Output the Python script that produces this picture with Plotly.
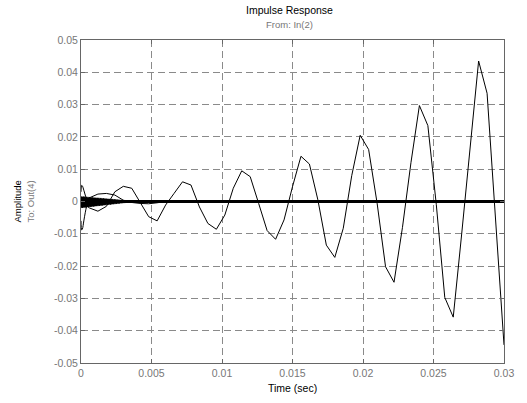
import plotly.graph_objects as go

# ---- data ----
dt_main = 0.0006
main_t = [round(k * dt_main, 6) for k in range(51)]
main_v = [0.0, -0.002, -0.003, -0.0015, 0.003, 0.0047, 0.0041, -0.0003, -0.0047, -0.0060,
          -0.0011, 0.0025, 0.0061, 0.0051, -0.0017, -0.0068, -0.0086, -0.0042, 0.0041, 0.0095,
          0.0077, -0.0006, -0.0090, -0.0117, -0.0057, 0.0046, 0.0140, 0.0116, 0.0005, -0.0135,
          -0.0173, -0.0083, 0.0080, 0.0205, 0.0161, -0.0005, -0.0202, -0.0250, -0.0080, 0.0120,
          0.0297, 0.0235, -0.0010, -0.0297, -0.0358, -0.0100, 0.0170, 0.0435, 0.0335, -0.0040,
          -0.0444]

spikeA_t = [0, 0.00005, 0.0001, 0.0002, 0.0003, 0.0004, 0.0005]
spikeA_v = [0.003, 0.005, 0.0048, 0.0035, 0.002, 0.0008, 0.0]
spikeB_t = [0, 0.00005, 0.0001, 0.0002, 0.0003, 0.0004, 0.0005, 0.0006]
spikeB_v = [-0.006, -0.0088, -0.0085, -0.006, -0.0035, -0.0015, -0.0005, 0.0]

slow_t = [0, 0.0006, 0.0012, 0.0018, 0.0024, 0.003, 0.0036, 0.0042, 0.0048, 0.0054, 0.006]
slow_v = [0.0, 0.0012, 0.0023, 0.0025, 0.002, 0.0004, -0.0003, -0.0006, -0.0007, -0.0004, 0.0]

# dense band of fast-decaying responses near t = 0 (envelope)
band_t = [0.0, 0.001, 0.002, 0.003, 0.004]
band_hi = [0.0015, 0.0011, 0.0007, 0.0003, 0.0]
band_lo = [-0.0019, -0.0014, -0.0009, -0.0004, 0.0]

fan_t = [round(k * 0.0001, 5) for k in range(41)]
fan1_v = [0.0015, -0.0019, 0.0015, -0.0018, 0.0014, -0.0017, 0.0013, -0.0016, 0.0012, -0.0015,
          0.0011, -0.0014, 0.0011, -0.0013, 0.0010, -0.0012, 0.0009, -0.0011, 0.0008, -0.0010,
          0.0007, -0.0009, 0.0007, -0.0008, 0.0006, -0.0007, 0.0005, -0.0006, 0.0004, -0.0005,
          0.0004, -0.0004, 0.0003, -0.0003, 0.0002, -0.0002, 0.0001, -0.0001, 0.0001, 0.0, 0.0]

flat_t = [0.0, 0.03]
flat_v = [0.0, 0.0]
flat2_t = [0.004, 0.0256]
flat2_v = [0.0001, 0.0001]

x_ticks = [0, 0.005, 0.01, 0.015, 0.02, 0.025, 0.03]
x_labels = ["0", "0.005", "0.01", "0.015", "0.02", "0.025", "0.03"]
y_ticks = [0.05, 0.04, 0.03, 0.02, 0.01, 0, -0.01, -0.02, -0.03, -0.04, -0.05]
y_labels = ["0.05", "0.04", "0.03", "0.02", "0.01", "0", "-0.01", "-0.02", "-0.03", "-0.04", "-0.05"]

fig = go.Figure()
line_k = dict(color="black", width=1)
fig.add_trace(go.Scatter(x=band_t + band_t[::-1], y=band_hi + band_lo[::-1], mode="lines",
                         fill="toself", fillcolor="black", line=dict(color="black", width=0.5)))
fig.add_trace(go.Scatter(x=flat_t, y=flat_v, mode="lines", line=dict(color="black", width=3)))
fig.add_trace(go.Scatter(x=flat2_t, y=flat2_v, mode="lines", line=dict(color="black", width=1.5)))
fig.add_trace(go.Scatter(x=fan_t, y=fan1_v, mode="lines", line=line_k))
fig.add_trace(go.Scatter(x=spikeA_t, y=spikeA_v, mode="lines", line=dict(color="black", width=1, shape="spline")))
fig.add_trace(go.Scatter(x=spikeB_t, y=spikeB_v, mode="lines", line=dict(color="black", width=1, shape="spline")))
fig.add_trace(go.Scatter(x=slow_t, y=slow_v, mode="lines", line=line_k))
fig.add_trace(go.Scatter(x=main_t, y=main_v, mode="lines", line=line_k))

axis_common = dict(
    showline=True, linecolor="#666666", linewidth=1, mirror="ticks",
    ticks="inside", ticklen=4, tickcolor="#666666",
    showgrid=True, gridcolor="#8a8a8a", gridwidth=1, griddash="7px,4px",
    zeroline=False, tickfont=dict(family="Liberation Sans, Arial", size=10.5, color="#777777"),
)

H = 403 - 40 - 40
W = 527 - 81 - 23
def py(ypix):
    return (363 - ypix) / H
def px(xpix):
    return (xpix - 81) / W

fig.update_layout(
    width=527, height=403,
    margin=dict(l=81, r=23, t=40, b=40),
    paper_bgcolor="white", plot_bgcolor="white",
    showlegend=False,
    font=dict(family="Liberation Sans, Arial", size=10, color="black"),
    xaxis=dict(range=[0, 0.03], tickvals=x_ticks, ticktext=x_labels, **axis_common),
    yaxis=dict(range=[-0.05, 0.05], tickvals=y_ticks, ticktext=y_labels, **axis_common),
    annotations=[
        dict(text="Impulse Response", x=px(289), y=py(10), yanchor="middle", xref="paper", yref="paper",
             showarrow=False, font=dict(size=10.5, color="black")),
        dict(text="From: In(2)", x=px(289), y=py(24), yanchor="middle", xref="paper", yref="paper",
             showarrow=False, font=dict(size=9.5, color="#777777")),
        dict(text="Time (sec)", x=px(292), y=py(388), yanchor="middle", xref="paper", yref="paper",
             showarrow=False, font=dict(size=10.5, color="black")),
        dict(text="Amplitude", x=px(17), y=0.5, xanchor="center", xref="paper", yref="paper",
             showarrow=False, textangle=-90, font=dict(size=9.5, color="black")),
        dict(text="To: Out(4)", x=px(30), y=0.5, xanchor="center", xref="paper", yref="paper",
             showarrow=False, textangle=-90, font=dict(size=9.5, color="#777777")),
    ],
)

fig.write_html("out.html")
